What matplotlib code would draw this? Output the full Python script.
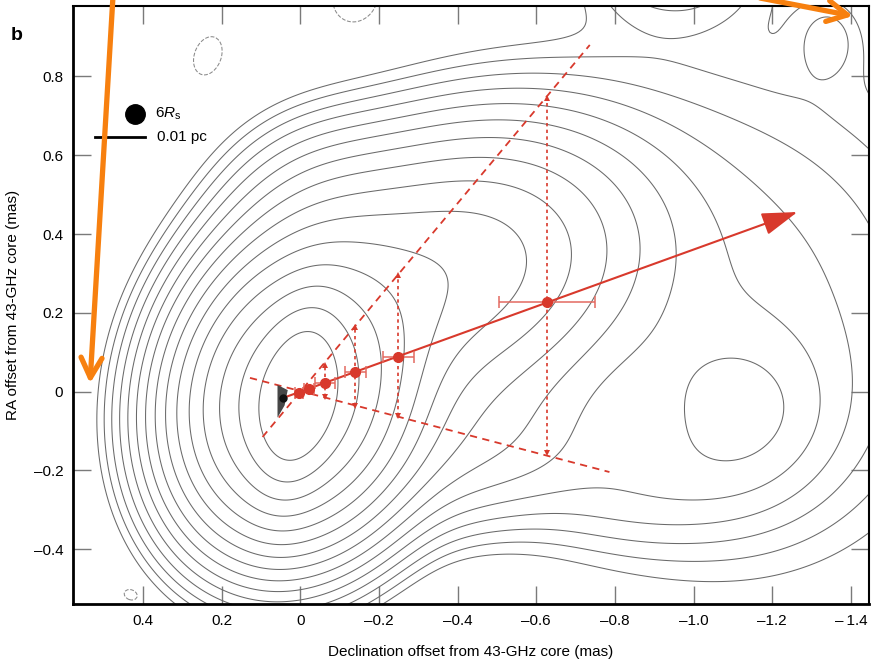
import numpy as np
import matplotlib
matplotlib.use("Agg")
import matplotlib.pyplot as plt
from matplotlib.patches import Polygon, FancyArrowPatch

plt.rcParams['font.family'] = ['Liberation Sans', 'DejaVu Sans']
plt.rcParams['mathtext.fontset'] = 'custom'
plt.rcParams['mathtext.rm'] = 'Liberation Sans'
plt.rcParams['mathtext.it'] = 'Liberation Sans:italic'

# brightness model (gaussian components): x, y, amplitude, sigma_x, sigma_y, tilt (deg)
comp_x   = [0.005, 0.012, -0.37, -0.05, -0.45, -0.85, -1.12, -1.345, -0.95, -1.10]
comp_y   = [-0.015, -0.020, 0.30, 0.45, -0.15, -0.25, -0.06, 0.90, 1.08, 0.20]
comp_amp = [0.55, 1.0, 0.22, 0.03, 0.04, 0.015, 0.03, 0.008, 0.02, 0.026]
comp_sx  = [0.057, 0.158, 0.28, 0.15, 0.20, 0.20, 0.15, 0.06, 0.15, 0.40]
comp_sy  = [0.13, 0.197, 0.20, 0.15, 0.12, 0.10, 0.14, 0.075, 0.10, 0.42]
comp_pa  = [10, 15, -20, 0, -15, 0, 0, 0, 0, 0]

# negative (dashed) patches
neg_x   = [0.235, -0.14, 0.43]
neg_y   = [0.852, 1.00, -0.515]
neg_amp = [-0.03, -0.03, -0.015]
neg_sx  = [0.021, 0.035, 0.02]
neg_sy  = [0.031, 0.04, 0.015]

lowest = 0.0078
n_levels = 15

# jet component positions and errors
pos_x = [0.004, -0.022, -0.062, -0.140, -0.249, -0.627]
pos_y = [-0.003, 0.007, 0.022, 0.050, 0.089, 0.228]
pos_xerr = [0.010, 0.012, 0.025, 0.027, 0.040, 0.123]

# jet width arrows (top, bottom)
width_x = [-0.062, -0.140, -0.249, -0.627]
width_top = [0.068, 0.165, 0.296, 0.745]
width_bot = [-0.013, -0.036, -0.063, -0.156]

# jet edges (dashed)
edge_up_x = [0.096, -0.736]
edge_up_y = [-0.115, 0.880]
edge_lo_x = [0.128, -0.786]
edge_lo_y = [0.035, -0.204]

core_x, core_y = 0.044, -0.016
arrow_tip = (-1.264, 0.456)
wedge_x = [0.058, 0.032, 0.040, 0.058]
wedge_y = [0.017, 0.004, -0.035, -0.066]

red = '#d8392c'

gx = np.linspace(0.62, -1.48, 420)
gy = np.linspace(-0.58, 1.02, 330)
X, Y = np.meshgrid(gx, gy)


def gauss(x0, y0, a, sx, sy, pa):
    t = np.radians(pa)
    u = (X - x0) * np.cos(t) + (Y - y0) * np.sin(t)
    v = -(X - x0) * np.sin(t) + (Y - y0) * np.cos(t)
    return a * np.exp(-0.5 * (u**2 / sx**2 + v**2 / sy**2))


Z = np.zeros_like(X)
for i in range(len(comp_x)):
    Z += gauss(comp_x[i], comp_y[i], comp_amp[i], comp_sx[i], comp_sy[i], comp_pa[i])
for i in range(len(neg_x)):
    Z += gauss(neg_x[i], neg_y[i], neg_amp[i], neg_sx[i], neg_sy[i], 20)

levels = lowest * np.sqrt(2) ** np.arange(n_levels)

fig = plt.figure(figsize=(8.73, 6.61), dpi=100)
ax = fig.add_axes([0.0836, 0.0862, 0.9114, 0.9048])

ax.contour(X, Y, Z, levels=levels, colors='#6a6a6a', linewidths=0.75)
ax.contour(X, Y, Z, levels=[-lowest], colors='#8a8a8a', linewidths=0.75, linestyles='dashed')

# jet edges
ax.plot(edge_up_x, edge_up_y, color=red, lw=1.3, ls=(0, (4, 3)))
ax.plot(edge_lo_x, edge_lo_y, color=red, lw=1.3, ls=(0, (4, 3)))

# width arrows
for x, yt, yb in zip(width_x, width_top, width_bot):
    ax.plot([x, x], [yb, yt], color=red, lw=1.2, ls=(0, (2, 2)))
    ax.plot([x], [yt], marker='^', color=red, ms=4, mew=0)
    ax.plot([x], [yb], marker='v', color=red, ms=4, mew=0)

# core wedge
ax.add_patch(Polygon(list(zip(wedge_x, wedge_y)), closed=True, fc='#474747', ec='none', zorder=3))

# main jet direction
ax.annotate('', xy=arrow_tip, xytext=(core_x, core_y),
            arrowprops=dict(arrowstyle='-|>,head_length=1.1,head_width=0.35',
                            mutation_scale=20, color=red, lw=1.5, shrinkA=0, shrinkB=0),
            zorder=4)

ax.errorbar(pos_x, pos_y, xerr=pos_xerr, fmt='o', color=red, ms=7, mec=red,
            ecolor='#e36a60', elinewidth=1.1, capsize=4, capthick=1.1, zorder=5)
ax.plot([core_x], [core_y], 'o', color='#111111', ms=5, zorder=6)

ax.set_xlim(0.578, -1.445)
ax.set_ylim(-0.539, 0.979)

ax.set_xticks([0.4, 0.2, 0, -0.2, -0.4, -0.6, -0.8, -1.0, -1.2, -1.4])
ax.set_xticklabels(['0.4', '0.2', '0', '\u20130.2', '\u20130.4', '\u20130.6', '\u20130.8',
                    '\u20131.0', '\u20131.2', '\u2013\u20091.4'])
ax.set_yticks([-0.4, -0.2, 0, 0.2, 0.4, 0.6, 0.8])
ax.set_yticklabels(['\u20130.4', '\u20130.2', '0', '0.2', '0.4', '0.6', '0.8'])
ax.tick_params(direction='in', length=13, width=1.0, color='#7a7a7a', labelsize=11,
               top=True, right=True, pad=7)
for s in ['left', 'bottom']:
    ax.spines[s].set_linewidth(2.0)
for s in ['top', 'right']:
    ax.spines[s].set_linewidth(1.5)

ax.set_xlabel('Declination offset from 43-GHz core (mas)', fontsize=11, va='top')
ax.xaxis.set_label_coords(0.5, -0.068)
ax.set_ylabel('RA offset from 43-GHz core (mas)', fontsize=11, va='center')
ax.yaxis.set_label_coords(-0.075, 0.5)

# scale legend
ax.plot([0.078], [0.819], 'o', color='black', ms=14, transform=ax.transAxes)
ax.text(0.103, 0.819, r'6$R_{\rm s}$', transform=ax.transAxes, fontsize=11, va='center')
ax.plot([0.028, 0.0905], [0.781, 0.781], color='black', lw=2, transform=ax.transAxes)
ax.text(0.1055, 0.781, '0.01 pc', transform=ax.transAxes, fontsize=11, va='center')

fig.text(0.012, 0.94, 'b', fontsize=14, fontweight='bold')

# orange pointers
orange = '#f7800f'
for start, end in [((0.1294, 1.005), (0.1031, 0.42)), ((0.8706, 1.003), (0.977, 0.9758))]:
    fig.patches.append(FancyArrowPatch(
        start, end, transform=fig.transFigure, arrowstyle='->,head_length=0.8,head_width=0.42',
        mutation_scale=18, color=orange, lw=3.8, shrinkA=0, shrinkB=0, zorder=10))

fig.savefig('out.png', dpi=100)
